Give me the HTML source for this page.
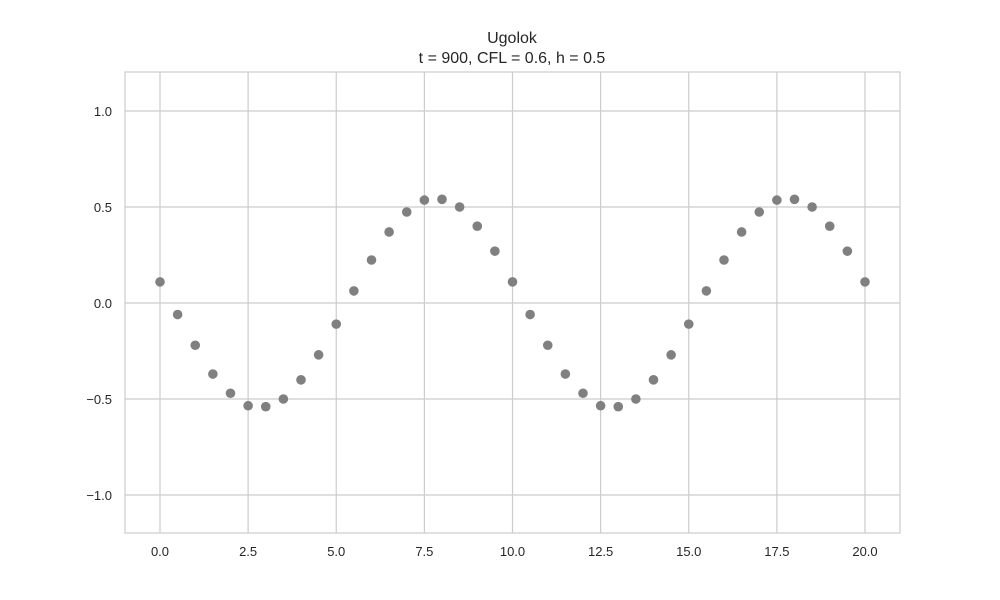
<!DOCTYPE html>
<html><head><meta charset="utf-8"><style>
body{margin:0;background:#fff;}
svg{display:block;font-family:"Liberation Sans",Arial,sans-serif;}
</style></head><body>
<svg id="chart" width="1000" height="600">
<rect width="1000" height="600" fill="#fff"/>
<g id="grid"></g>
<rect x="125" y="72" width="775" height="461" fill="none" stroke="#cccccc" stroke-width="1.2"/>
<g id="ticks"></g>
<g id="points"></g>
<text x="512" y="43" text-anchor="middle" font-size="16" fill="#262626">Ugolok</text>
<text x="512" y="63" text-anchor="middle" font-size="16" fill="#262626">t = 900, CFL = 0.6, h = 0.5</text>
</svg>
<script>
const xTicks=[0,2.5,5,7.5,10,12.5,15,17.5,20];
const xTickLabels=["0.0","2.5","5.0","7.5","10.0","12.5","15.0","17.5","20.0"];
const yTicks=[-1,-0.5,0,0.5,1];
const yTickLabels=["\u22121.0","\u22120.5","0.0","0.5","1.0"];
const xValues=[0,0.5,1,1.5,2,2.5,3,3.5,4,4.5,5,5.5,6,6.5,7,7.5,8,8.5,9,9.5,10,10.5,11,11.5,12,12.5,13,13.5,14,14.5,15,15.5,16,16.5,17,17.5,18,18.5,19,19.5,20];
const yValues=[0.11,-0.06,-0.22,-0.37,-0.47,-0.535,-0.54,-0.5,-0.40,-0.27,-0.11,0.063,0.224,0.37,0.474,0.536,0.54,0.5,0.40,0.27,0.11,-0.06,-0.22,-0.37,-0.47,-0.535,-0.54,-0.5,-0.40,-0.27,-0.11,0.063,0.224,0.37,0.474,0.536,0.54,0.5,0.40,0.27,0.11];
const NS="http://www.w3.org/2000/svg";
const xs=v=>160+v*35.25;
const ys=v=>303-v*192;
const grid=document.getElementById('grid'),ticks=document.getElementById('ticks'),pts=document.getElementById('points');
function mk(tag,attrs,parent){const e=document.createElementNS(NS,tag);for(const k in attrs)e.setAttribute(k,attrs[k]);parent.appendChild(e);return e;}
xTicks.forEach((t,i)=>{
 const l=mk('line',{x1:xs(t),x2:xs(t),y1:72,y2:533,stroke:'#cccccc','stroke-width':1.2},grid);
 
 
 const tx=mk('text',{x:xs(t),y:556,'text-anchor':'middle','font-size':13,fill:'#262626'},ticks);
 tx.textContent=xTickLabels[i];
 
 
});
yTicks.forEach((t,i)=>{
 const l=mk('line',{x1:125,x2:900,y1:ys(t),y2:ys(t),stroke:'#cccccc','stroke-width':1.2},grid);
 
 
 const tx=mk('text',{x:112,y:ys(t)+5,'text-anchor':'end','font-size':13,fill:'#262626'},ticks);
 tx.textContent=yTickLabels[i];
 
 
});
xValues.forEach((x,i)=>{
 const c=mk('circle',{cx:xs(x),cy:ys(yValues[i]),r:4.8,fill:'#808080'},pts);
 
 
});
</script>
</body></html>
